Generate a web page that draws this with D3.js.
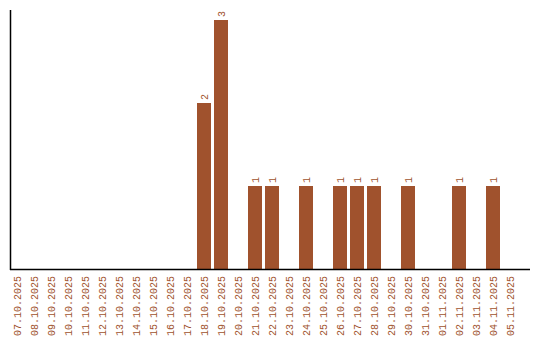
<!DOCTYPE html>
<html>
<head>
<meta charset="utf-8">
<script src="https://cdn.jsdelivr.net/npm/d3@7"></script>
<style>
  body { margin: 0; background: #fff; }
  svg { display: block; }
</style>
</head>
<body>
<div id="chart"></div>
<script>
// dates on the x axis
var dates = [
    "07.10.2025", "08.10.2025", "09.10.2025", "10.10.2025", "11.10.2025",
    "12.10.2025", "13.10.2025", "14.10.2025", "15.10.2025", "16.10.2025",
    "17.10.2025", "18.10.2025", "19.10.2025", "20.10.2025", "21.10.2025",
    "22.10.2025", "23.10.2025", "24.10.2025", "25.10.2025", "26.10.2025",
    "27.10.2025", "28.10.2025", "29.10.2025", "30.10.2025", "31.10.2025",
    "01.11.2025", "02.11.2025", "03.11.2025", "04.11.2025", "05.11.2025"
];
// count per day
var counts = [
    0, 0, 0, 0, 0,
    0, 0, 0, 0, 0,
    0, 2, 3, 0, 1,
    1, 0, 1, 0, 1,
    1, 1, 0, 1, 0,
    0, 1, 0, 1, 0
];

var svgWidth = 540;
var svgHeight = 340;
var color = "#a0522d";
var font = "'Liberation Mono', monospace";

var svg = d3.select("#chart")
    .append("svg")
    .attr("width", svgWidth)
    .attr("height", svgHeight);

var data = dates.map(function (d, i) {
    return { date: d, count: counts[i] };
});

// step of 17px, bars 14px wide
var xScale = d3.scaleBand()
    .domain(dates)
    .range([10, 517])
    .paddingInner(3 / 17)
    .paddingOuter(0)
    .align(0);

var yScale = d3.scaleLinear()
    .domain([0, 3])
    .range([269, 20]);

// bars
svg.selectAll("rect.bar")
    .data(data.filter(d => d.count > 0))
    .enter()
    .append("rect")
    .attr("class", "bar")
    .attr("x", d => xScale(d.date))
    .attr("y", d => yScale(d.count))
    .attr("width", xScale.bandwidth())
    .attr("height", d => yScale(0) - yScale(d.count))
    .attr("fill", color);

// value labels, rotated like the dates
svg.selectAll("text.value")
    .data(data.filter(d => d.count > 0))
    .enter()
    .append("text")
    .attr("class", "value")
    .attr("transform", d => "translate(" + (xScale(d.date) + xScale.bandwidth() / 2) + "," + (yScale(d.count) - 3) + ") rotate(-90)")
    .attr("dy", "0.35em")
    .style("font-family", font)
    .style("font-size", "10px")
    .style("fill", color)
    .text(d => d.count);

// x axis
var xAxis = svg.append("g")
    .attr("transform", "translate(0,269.5)")
    .call(d3.axisBottom(xScale).tickSize(0).tickSizeOuter(0));

xAxis.select(".domain").remove();
xAxis.append("line")
    .attr("x1", 10).attr("x2", 530)
    .attr("y1", 0).attr("y2", 0)
    .attr("stroke", "#000")
    .attr("stroke-width", 1.5);

xAxis.selectAll("text")
    .attr("transform", "rotate(-90)")
    .attr("x", -6.5)
    .attr("y", 0)
    .attr("dy", "0.35em")
    .style("text-anchor", "end")
    .style("font-family", font)
    .style("font-size", "10px")
    .style("fill", color);

// y axis line (no ticks)
svg.append("line")
    .attr("x1", 10.5).attr("x2", 10.5)
    .attr("y1", 10).attr("y2", 270)
    .attr("stroke", "#000")
    .attr("stroke-width", 1.5);
</script>
</body>
</html>
